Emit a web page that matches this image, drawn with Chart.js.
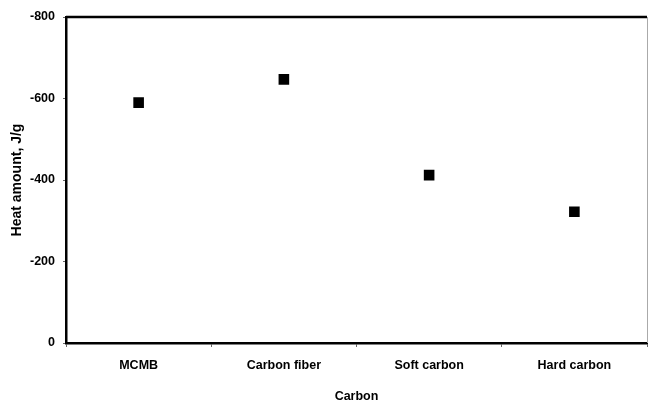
<!DOCTYPE html>
<html>
<head>
<meta charset="utf-8">
<script src="https://cdn.jsdelivr.net/npm/chart.js@4/dist/chart.umd.min.js"></script>
<style>
  html, body { margin: 0; padding: 0; background: #fff; }
  #wrap { width: 648px; height: 403px; }
</style>
</head>
<body>
<div id="wrap"><canvas id="grafico"></canvas></div>
<script>
// datos
const carbones = ['MCMB', 'Carbon fiber', 'Soft carbon', 'Hard carbon'];
const calor = [-590, -647, -412, -322];
const ticksY = [0, -200, -400, -600, -800];

const fuente = 'Arial, "Liberation Sans", sans-serif';

// marco superior y derecho del area del grafico
const marco = {
  id: 'marco',
  afterDraw(chart) {
    const { ctx, chartArea: a } = chart;
    ctx.save();
    ctx.strokeStyle = '#000';
    ctx.lineWidth = 2.5;
    ctx.beginPath();
    ctx.moveTo(a.left, a.top);
    ctx.lineTo(a.right, a.top);
    ctx.stroke();
    ctx.strokeStyle = '#aaa';
    ctx.lineWidth = 1;
    ctx.beginPath();
    ctx.moveTo(a.right + 0.5, a.top);
    ctx.lineTo(a.right + 0.5, a.bottom);
    ctx.stroke();
    ctx.restore();
  }
};

new Chart(document.getElementById('grafico'), {
  type: 'line',
  data: {
    labels: carbones,
    datasets: [{
      data: calor,
      showLine: false,
      pointStyle: 'rect',
      pointRadius: 7.5,
      pointHoverRadius: 7.5,
      backgroundColor: '#000',
      borderColor: '#000',
      borderWidth: 0
    }]
  },
  plugins: [marco],
  options: {
    responsive: true,
    maintainAspectRatio: false,
    animation: false,
    layout: { autoPadding: false, padding: { top: 17, right: 1, left: 0, bottom: 0 } },
    plugins: { legend: { display: false }, tooltip: { enabled: false } },
    scales: {
      x: {
        offset: true,
        afterFit: s => { s.height = 60; s.paddingLeft = 0; s.paddingRight = 0; },
        grid: { display: true, drawOnChartArea: false, offset: true, tickLength: 4, color: '#666', tickWidth: 1 },
        border: { display: true, color: '#000', width: 2.5 },
        ticks: { color: '#000', padding: 11, font: { family: fuente, size: 12.5, weight: 'bold' } },
        title: { display: true, text: 'Carbon', color: '#000', padding: { top: 0, bottom: 0 },
                 font: { family: fuente, size: 12.5, weight: 'bold', lineHeight: 1 } }
      },
      y: {
        reverse: true,
        min: -800,
        max: 0,
        afterFit: s => { s.width = 66; s.paddingTop = 0; s.paddingBottom = 0; },
        afterBuildTicks: s => { s.ticks = ticksY.map(v => ({ value: v })); },
        grid: { display: true, drawOnChartArea: false, tickLength: 3, color: '#666' },
        border: { display: true, color: '#000', width: 2.5 },
        ticks: { color: '#000', padding: 8, font: { family: fuente, size: 12.5, weight: 'bold' } },
        title: { display: true, text: 'Heat amount, J/g', color: '#000', padding: { top: 9, bottom: 0 },
                 font: { family: fuente, size: 14, weight: 'bold' } }
      }
    }
  }
});
</script>
</body>
</html>
